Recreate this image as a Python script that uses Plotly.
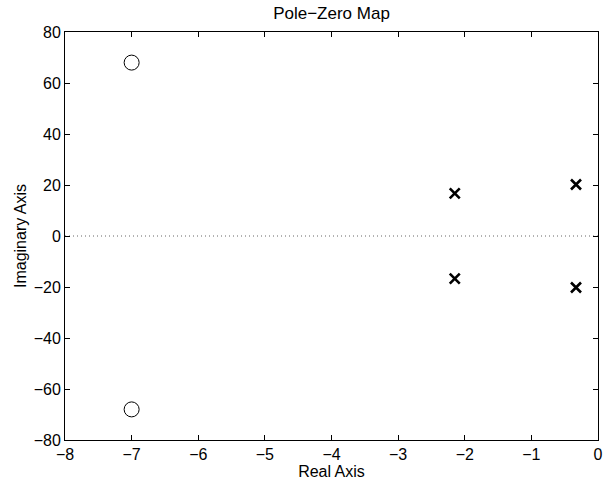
import plotly.graph_objects as go

zero_re = [-7.0, -7.0]
zero_im = [68.0, -68.0]
pole_re = [-2.15, -2.15, -0.33, -0.33]
pole_im = [16.7, -16.7, 20.2, -20.2]

x_ticks = [-8, -7, -6, -5, -4, -3, -2, -1, 0]
y_ticks = [-80, -60, -40, -20, 0, 20, 40, 60, 80]

fig = go.Figure()
fig.add_trace(go.Scatter(x=pole_re, y=pole_im, mode="markers",
                         marker=dict(symbol="x-thin-open", size=10, color="black",
                                     line=dict(width=2.6, color="black")),
                         showlegend=False, cliponaxis=False))
fig.add_trace(go.Scatter(x=zero_re, y=zero_im, mode="markers",
                         marker=dict(symbol="circle-open", size=15, color="black",
                                     line=dict(width=1, color="black")),
                         showlegend=False, cliponaxis=False))
fig.add_shape(type="line", x0=-8, x1=0, y0=0, y1=0, xref="x", yref="y",
              line=dict(color="#666666", width=1, dash="1px,3px"), layer="below")

axis_common = dict(showgrid=False, zeroline=False, ticks="inside", ticklen=5,
                   tickcolor="black", showline=True, linecolor="black", linewidth=1,
                   mirror="ticks", automargin=False,
                   tickfont=dict(size=16, color="black"))
fig.update_xaxes(range=[-8, 0], tickvals=x_ticks,
                 title=dict(text="Real Axis", font=dict(size=16, color="black"), standoff=0),
                 **axis_common)
fig.update_yaxes(range=[-80, 80], tickvals=y_ticks,
                 title=dict(text="Imaginary Axis", font=dict(size=16, color="black"), standoff=3),
                 **axis_common)
fig.update_layout(
    width=603, height=482,
    margin=dict(l=65, r=5, t=32, b=42, autoexpand=False),
    plot_bgcolor="white", paper_bgcolor="white",
    font=dict(family="Liberation Sans, Arial, sans-serif", color="black"),
    title=dict(text="Pole\u2212Zero Map", x=0.5, xanchor="center", xref="paper",
               y=1 - 13 / 482, yanchor="middle", font=dict(size=17, color="black")),
)
fig.write_html("out.html", config={"displayModeBar": False},
               post_script="document.body.style.margin='0';document.body.style.padding='0';")
